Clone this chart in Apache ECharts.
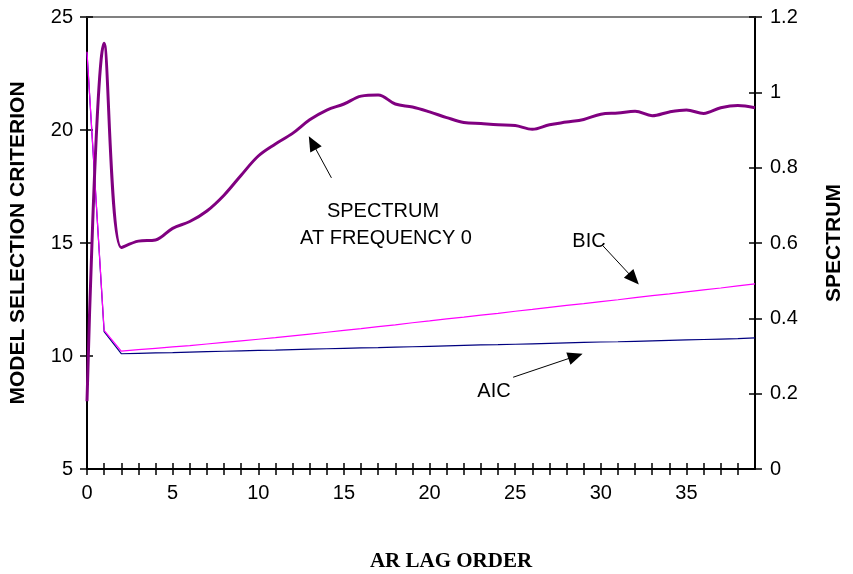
<!DOCTYPE html>
<html>
<head>
<meta charset="utf-8">
<script src="https://cdn.jsdelivr.net/npm/echarts@6/dist/echarts.min.js"></script>
<style>
html,body{margin:0;padding:0;background:#fff;}
#chart{width:853px;height:574px;}
</style>
</head>
<body>
<div id="chart"></div>
<script>
// AR lag order 0..39
var lags = [0,1,2,3,4,5,6,7,8,9,10,11,12,13,14,15,16,17,18,19,20,21,22,23,24,25,26,27,28,29,30,31,32,33,34,35,36,37,38,39];
// Model selection criteria (left axis)
var aic = [23.40,11.08,10.10,10.12,10.14,10.15,10.17,10.19,10.21,10.23,10.25,10.26,10.28,10.30,10.32,10.34,10.36,10.37,10.39,10.41,10.43,10.45,10.47,10.49,10.50,10.52,10.54,10.56,10.58,10.60,10.62,10.63,10.65,10.67,10.69,10.71,10.73,10.75,10.77,10.80];
var bic = [23.46,11.13,10.22,10.28,10.34,10.40,10.46,10.53,10.60,10.67,10.74,10.81,10.89,10.97,11.05,11.13,11.21,11.30,11.38,11.47,11.55,11.64,11.72,11.81,11.89,11.98,12.06,12.15,12.24,12.32,12.41,12.49,12.58,12.67,12.75,12.84,12.93,13.01,13.10,13.19];
// Spectrum at frequency 0 (right axis)
var spectrum = [0.18,1.13,0.588,0.605,0.608,0.639,0.657,0.685,0.727,0.780,0.831,0.863,0.891,0.927,0.953,0.969,0.990,0.993,0.969,0.961,0.948,0.933,0.920,0.917,0.914,0.912,0.902,0.914,0.921,0.928,0.942,0.945,0.950,0.938,0.948,0.953,0.944,0.959,0.965,0.959];
// tick settings
var leftTicks = {min:5, max:25, interval:5};
var rightTicks = {min:0, max:1.2, interval:0.2};
var xTicks = {min:0, max:39, interval:1, labelEvery:5};

function pairs(ys){ return lags.map(function(x,i){ return [x, ys[i]]; }); }

var sans = 'Liberation Sans, Arial, sans-serif';
var chart = echarts.init(document.getElementById('chart'), null, {renderer:'canvas'});

var arrowStyle = {color:'#000', width:1, type:'solid'};
function arrow(from, to){
  return [{coord:from, symbol:'none'}, {coord:to, symbol:'triangle', symbolSize:[13,15]}];
}

chart.setOption({
  animation:false,
  backgroundColor:'#fff',
  grid:{left:79, right:79, top:17, bottom:105, containLabel:false},
  xAxis:[
    {type:'value', min:xTicks.min, max:xTicks.max, interval:xTicks.interval, position:'bottom',
     axisLine:{show:true, onZero:false, lineStyle:{color:'#000', width:2}},
     axisTick:{show:true, inside:false, length:6, lineStyle:{color:'#000', width:1.5}},
     axisLabel:{show:true, margin:14, color:'#000', fontFamily:sans, fontSize:20,
       formatter:function(v){ return (v % xTicks.labelEvery === 0) ? String(v) : ''; },
       showMaxLabel:false},
     splitLine:{show:false}},
    {type:'value', min:xTicks.min, max:xTicks.max, interval:xTicks.interval, position:'bottom',
     axisLine:{show:false, onZero:false},
     axisTick:{show:true, inside:true, length:6, lineStyle:{color:'#000', width:1.5}},
     axisLabel:{show:false}, splitLine:{show:false}},
    {type:'value', min:xTicks.min, max:xTicks.max, position:'top',
     axisLine:{show:true, onZero:false, lineStyle:{color:'#808080', width:2}},
     axisTick:{show:false}, axisLabel:{show:false}, splitLine:{show:false}}
  ],
  yAxis:[
    {type:'value', min:leftTicks.min, max:leftTicks.max, interval:leftTicks.interval, position:'left',
     axisLine:{show:true, onZero:false, lineStyle:{color:'#000', width:2}},
     axisTick:{show:true, inside:false, length:7, lineStyle:{color:'#000', width:1.5}},
     axisLabel:{margin:14, color:'#000', fontFamily:sans, fontSize:20},
     splitLine:{show:false},
     name:'MODEL SELECTION CRITERION', nameLocation:'middle', nameGap:58, nameRotate:90,
     nameTextStyle:{color:'#000', fontFamily:sans, fontSize:21, fontWeight:'bold'}},
    {type:'value', min:rightTicks.min, max:rightTicks.max, interval:rightTicks.interval, position:'right',
     axisLine:{show:true, onZero:false, lineStyle:{color:'#000', width:2}},
     axisTick:{show:true, inside:false, length:7, lineStyle:{color:'#000', width:1.5}},
     axisLabel:{margin:15, color:'#000', fontFamily:sans, fontSize:20},
     splitLine:{show:false},
     name:'SPECTRUM', nameLocation:'middle', nameGap:69, nameRotate:90,
     nameTextStyle:{color:'#000', fontFamily:sans, fontSize:21, fontWeight:'bold'}},
    {type:'value', min:leftTicks.min, max:leftTicks.max, interval:leftTicks.interval, position:'left',
     axisLine:{show:false, onZero:false},
     axisTick:{show:true, inside:true, length:6, lineStyle:{color:'#000', width:1.5}},
     axisLabel:{show:false}, splitLine:{show:false}},
    {type:'value', min:rightTicks.min, max:rightTicks.max, interval:rightTicks.interval, position:'right',
     axisLine:{show:false, onZero:false},
     axisTick:{show:true, inside:true, length:6, lineStyle:{color:'#000', width:1.5}},
     axisLabel:{show:false}, splitLine:{show:false}}
  ],
  series:[
    {name:'AIC', type:'line', xAxisIndex:0, yAxisIndex:0, data:pairs(aic), showSymbol:false, symbol:'none',
     lineStyle:{color:'#000080', width:1.2}, z:2,
     markLine:{silent:true, animation:false, label:{show:false}, lineStyle:arrowStyle,
       data:[arrow([24.88, 9.06], [28.52, 9.99])]}},
    {name:'BIC', type:'line', xAxisIndex:0, yAxisIndex:0, data:pairs(bic), showSymbol:false, symbol:'none',
     lineStyle:{color:'#FF00FF', width:1.2}, z:3,
     markLine:{silent:true, animation:false, label:{show:false}, lineStyle:arrowStyle,
       data:[arrow([30.13, 14.87], [31.92, 13.41])]}},
    {name:'Spectrum', type:'line', xAxisIndex:0, yAxisIndex:1, data:pairs(spectrum), showSymbol:false, symbol:'none',
     smooth:0.35, lineStyle:{color:'#800080', width:3}, z:4,
     markLine:{silent:true, animation:false, label:{show:false}, lineStyle:arrowStyle,
       data:[arrow([14.27, 0.773], [13.16, 0.866])]}}
  ],
  graphic:[
    {type:'text', x:383, y:211, style:{text:'SPECTRUM', fill:'#000', font:'20px ' + sans, textAlign:'center', textVerticalAlign:'middle'}},
    {type:'text', x:386, y:238, style:{text:'AT FREQUENCY 0', fill:'#000', font:'20px ' + sans, textAlign:'center', textVerticalAlign:'middle'}},
    {type:'text', x:589, y:241, style:{text:'BIC', fill:'#000', font:'20px ' + sans, textAlign:'center', textVerticalAlign:'middle'}},
    {type:'text', x:494, y:391, style:{text:'AIC', fill:'#000', font:'20px ' + sans, textAlign:'center', textVerticalAlign:'middle'}},
    {type:'text', x:451, y:562, style:{text:'AR LAG ORDER', fill:'#000', font:'bold 21px "Liberation Serif", "Times New Roman", serif', textAlign:'center', textVerticalAlign:'middle'}}
  ]
});
</script>
</body>
</html>
